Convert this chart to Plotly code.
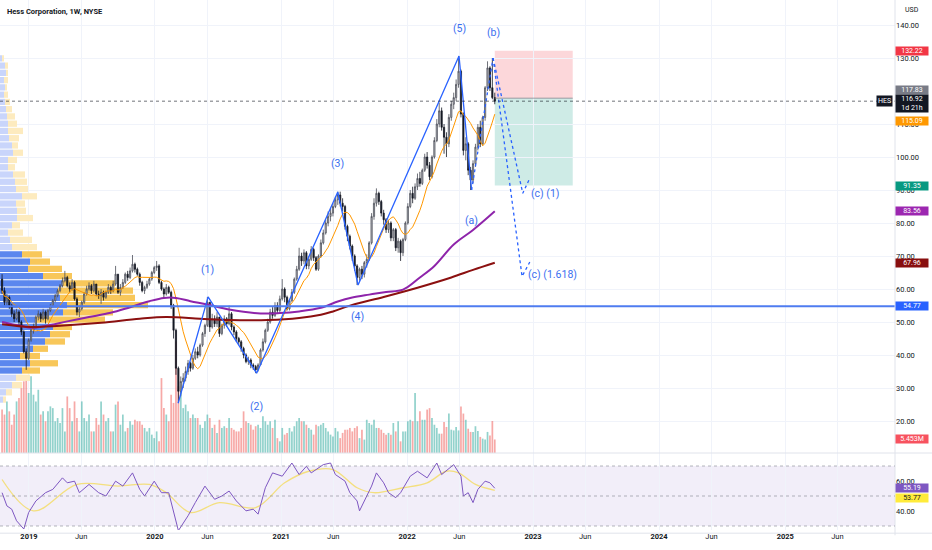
import pandas as pd
import plotly.graph_objects as go

FONT = "Roboto, Arial, sans-serif"
INK = "#131722"
BLUE = "#2962ff"

START = pd.Timestamp("2018-10-15")          # first weekly bar
X0, X1 = pd.Timestamp("2018-10-09"), pd.Timestamp("2025-11-15")
PLOT_W = 895                                 # px width of the plot area

# ---- weekly OHLC (open = previous close) ----
FIRST_OPEN = 63.0
closes = [59.5, 56, 57.5, 55, 52.5, 51, 53, 50, 47, 41,
          39, 44.5, 47.5, 48.5, 51.5, 52.5, 51, 53, 51, 53.5,
          55, 56.5, 58, 59.5, 61, 62.5, 63.5, 61, 60, 62,
          57, 53, 54, 56, 58.5, 60, 61, 59.5, 61.5, 58.5,
          58, 59, 57.5, 59, 60.5, 59.5, 61.5, 64.5, 59, 60.5,
          62, 64.5, 63.5, 65.5, 67.5, 66, 64.5, 62, 59.5, 60.5,
          61.5, 63, 65, 66.5, 67, 62, 60, 58.5, 60.5, 59,
          55, 47.5, 36, 29, 32, 33, 35, 37.5, 36, 39,
          41, 40, 43, 46.5, 49, 56, 48.5, 51, 49.5, 51.5,
          46.5, 49, 51, 49.5, 52.5, 48.5, 47, 45, 44, 42,
          40, 38, 38.5, 37, 36.5, 35.5, 37, 41.5, 44, 47.5,
          50, 53, 52, 55, 53.5, 57, 60, 57.5, 54, 56.5,
          59, 63, 66, 70, 68.5, 71, 67, 69, 72, 69.5,
          66, 70, 74, 77, 80, 82, 83, 85, 87, 88.5,
          86, 85, 79, 76, 73, 70, 67, 63.5, 66, 64.5,
          68, 69, 74, 82, 86, 89, 86.5, 83, 81, 78,
          80, 75.5, 78, 72.5, 74.5, 71, 75, 80, 85, 89,
          87.5, 91, 93.5, 92, 96, 100, 97.5, 94, 100, 105,
          110, 114, 109, 106, 104, 112, 116, 118, 122, 126,
          113, 102, 104, 96, 93, 98, 103, 109, 104, 112,
          121, 127, 121, 118, 116.92]
highs = [64.5, 60.5, 58.5, 58, 55.5, 53.5, 54, 53.5, 50.5, 47.5,
         42, 45, 48, 49.5, 52, 53.5, 53, 54, 53.5, 54,
         55.5, 57, 58.5, 60, 61.5, 63.5, 65.5, 64, 62, 63,
         62.5, 57.5, 55, 56.5, 59, 61, 62, 61.5, 62.5, 61.5,
         59.5, 60, 59.5, 59.5, 61.5, 61, 62.5, 67, 64.5, 61.5,
         63, 65, 65.5, 66.5, 70.3, 68, 66.5, 65, 62.5, 61,
         62.5, 63.5, 65.5, 67, 68.5, 67.5, 62.5, 60.5, 61.5, 61,
         59.5, 55.5, 48, 36.5, 33.5, 34.5, 36.5, 38.5, 38, 40,
         42, 42.5, 43.5, 47, 49.5, 57.6, 56, 52.5, 52, 53,
         51.5, 49.5, 52, 51.5, 55, 53, 49, 47.5, 45.5, 44.5,
         42.5, 40.5, 39.5, 39, 37.5, 37, 37.5, 42, 45, 48,
         51, 54, 54.5, 56, 56, 58, 63, 60.5, 58, 57,
         60, 63.5, 67, 72.5, 71, 72, 71.5, 70, 73, 72.5,
         70, 70.5, 75, 78, 81, 83.5, 84.5, 86, 88, 89.5,
         89.5, 87.5, 85.5, 79.5, 76.5, 73.5, 70.5, 67.5, 66.5, 67,
         68.5, 70.5, 74.5, 83, 87.5, 90.5, 89.5, 87, 84, 81.5,
         81, 80.5, 78.5, 78.5, 75.5, 75, 75.5, 80.5, 86, 90,
         91, 92, 95, 95.5, 96.5, 101, 101.5, 98.5, 100.5, 106,
         111.5, 116.5, 115, 110, 107.5, 113, 117, 119.5, 123.5, 130.6,
         126.5, 113.5, 106, 104.5, 97, 99, 104, 110, 111, 112.5,
         121.5, 129, 127.5, 130, 119.5]
lows = [58.5, 55, 55, 54, 51.5, 50, 50.5, 49, 46, 40.5,
        35.5, 38.5, 44, 46.5, 48, 50.5, 50, 50.5, 49.5, 50.5,
        53, 54.5, 56, 57.5, 59, 60.5, 62, 60.5, 59, 59.5,
        56.5, 52, 51.5, 53.5, 55.5, 58, 59.5, 58.5, 59, 58,
        57, 55.5, 56.5, 57, 58.5, 58.5, 59, 61, 58.5, 58,
        60, 61.5, 62.5, 63, 65, 65, 64, 61, 59, 58.5,
        60, 61, 62.5, 64.5, 65.5, 61.5, 59.5, 57.5, 58, 58.5,
        54, 45, 34, 25.5, 27.5, 30, 32, 34, 35, 35.5,
        38.5, 39, 39.5, 42.5, 45.5, 48.5, 47, 48, 48.5, 48.5,
        45.5, 46, 48, 48.5, 49, 47.5, 46, 44, 43, 41,
        39, 37.5, 37, 36, 35.5, 34.5, 35, 37, 41, 43.5,
        47, 49.5, 51, 51.5, 52.5, 53, 56.5, 56, 53.5, 53.5,
        56, 58.5, 62.5, 65.5, 67, 67.5, 66, 66, 68.5, 68.5,
        65.5, 65.5, 69.5, 73.5, 76.5, 79, 80.5, 82, 84.5, 85.5,
        85, 83.5, 78, 74.5, 72, 68.5, 65.5, 61.2, 62.5, 63,
        63.5, 66.5, 68.5, 73.5, 81, 85, 85.5, 82, 79.5, 77,
        77, 74.5, 74.5, 71.5, 71, 68.5, 70, 74.5, 79.5, 84.5,
        86, 87, 90, 91, 91.5, 95.5, 96.5, 93, 93.5, 99.5,
        104.5, 109, 108, 101, 100, 103, 111, 114.5, 117, 121,
        112, 100.5, 99, 94.5, 90, 92, 97, 102, 103, 103.5,
        111, 120, 120, 117.5, 116]

# weekly volume, millions of shares
volume = [17.5, 15.5, 20.8, 16.8, 11.4, 15.5, 20.8, 22.2, 26.2, 28.9,
          30.2, 24.2, 30.9, 23.5, 20.8, 25.5, 15.5, 16.8, 12.8, 16.8,
          18.8, 18.1, 12.8, 14.1, 12.1, 18.1, 8.7, 22.8, 18.1, 12.8,
          20.8, 14.1, 8.7, 20.8, 14.1, 12.8, 15.5, 8.7, 8.7, 14.1,
          11.4, 20.8, 15.5, 12.8, 14.1, 8.7, 8.7, 19.5, 20.8, 11.4,
          15.5, 8.7, 10.1, 12.8, 11.4, 13.4, 12.8, 12.8, 11.4, 10.1,
          8.7, 10.1, 7.4, 6.0, 8.7, 4.7,
          30.2, 18.1, 15.5, 12.8, 23.5, 20.2, 45.0, 26.9, 24.9, 18.1,
          19.5, 16.8, 14.1, 15.5, 14.1, 14.1, 11.4, 10.1, 12.8, 15.5,
          14.1, 10.1, 11.4, 8.1, 13.4, 10.1, 10.8, 10.1, 14.1, 10.1,
          9.4, 8.7, 8.7, 10.1, 16.8, 12.8, 12.1, 11.4, 9.4, 10.8,
          11.4, 10.1, 14.8, 12.8, 11.4, 12.8, 10.1, 13.4, 6.0, 4.7,
          10.1, 7.4, 8.1, 10.1, 8.7, 10.8, 12.8, 14.1, 12.8, 12.8,
          11.4, 10.1, 9.4, 7.4, 11.4, 10.8, 11.4, 12.1, 10.1, 8.7,
          7.4, 6.7, 10.1, 8.7, 6.0, 8.1, 9.4, 9.4, 10.1, 8.7,
          10.1, 10.8, 6.0, 9.4, 5.4, 13.4, 12.1, 11.4, 13.4, 10.1,
          10.1, 9.4, 8.1, 7.4, 8.1, 7.4, 12.1, 8.7, 12.8, 4.7,
          8.7, 8.7, 12.8, 13.4, 12.8, 24.2, 12.8, 16.8, 13.4, 13.4,
          17.5, 18.1, 14.1, 11.4, 10.1,
          7.8, 7.8, 12.5, 10.5, 15.9, 9.4, 9.1, 10.5, 9.1, 18.8,
          15.9, 13.4, 9.8, 8.5, 8.5, 10.8, 8.9, 6.5, 5.8, 5.4,
          8.5, 7.1, 12.9, 5.453]

# ---- moving averages (week index -> value) ----
purple_w = [0, 5, 12, 18, 27, 36, 45, 53, 61, 67, 72, 78, 85, 94, 107, 115,
            123, 132, 139, 145, 152, 159, 166, 173, 179, 187, 195, 204]
purple_v = [50.0, 49.2, 48.3, 48.8, 50.2, 51.5, 52.8, 54.5, 56.3, 57.3, 57.3, 56.3,
            55.3, 53.8, 52.6, 52.7, 53.2, 54.3, 56.2, 57.4, 58.3, 59.1, 59.8, 63.5,
            67.0, 73.5, 77.9, 83.56]
maroon_w = [0, 12, 24, 41, 57, 68, 82, 94, 110, 123, 132, 137, 145, 158, 172, 186, 195, 204]
maroon_v = [49.3, 48.5, 48.9, 49.8, 51.0, 51.5, 51.0, 50.6, 50.6, 51.2, 52.2, 53.2,
            55.2, 57.6, 60.4, 63.5, 65.8, 67.96]

# ---- RSI pane ----
rsi_w = [0, 2, 4, 6, 9, 11, 14, 18, 21, 25, 27, 30, 32, 36, 40, 43, 47, 50, 54, 57,
         59, 63, 66, 69, 73, 77, 80, 84, 88, 91, 94, 97, 101, 104, 106, 109, 112, 116,
         120, 123, 126, 128, 133, 136, 138, 142, 144, 147, 148, 150, 153, 155, 158,
         160, 163, 165, 169, 172, 176, 180, 182, 187, 190, 191, 193, 195, 197, 200, 202, 204]
rsi_v = [52.2, 43.4, 41.2, 33.5, 28.0, 39.0, 46.7, 52.2, 54.4, 62.1, 58.8, 59.9, 52.2,
         57.7, 52.2, 50.0, 59.9, 56.6, 65.4, 54.4, 50.0, 59.9, 52.2, 52.2, 26.9, 36.8,
         45.6, 56.6, 47.8, 50.0, 53.3, 46.7, 40.1, 41.2, 37.9, 55.5, 65.4, 63.2, 72.0,
         64.3, 69.8, 65.4, 70.9, 72.0, 64.3, 59.9, 52.2, 46.7, 40.1, 46.7, 56.6, 65.4,
         58.8, 52.2, 48.9, 52.2, 63.2, 66.5, 62.1, 72.0, 64.3, 70.9, 63.2, 50.0, 52.2,
         45.6, 54.4, 59.9, 58.8, 55.19]
rsima_w = [0, 13, 31, 48, 61, 68, 78, 90, 105, 117, 127, 137, 147, 154, 166, 176, 184, 189, 196, 204]
rsima_v = [61.0, 40.1, 57.7, 56.6, 57.7, 52.2, 39.0, 45.6, 42.3, 58.8, 66.5, 67.6,
           55.5, 52.2, 55.5, 58.8, 66.5, 65.4, 57.7, 53.77]

# ---- visible-range volume profile (row price, up / down volume) ----
prof_price = [26.5, 28.7, 30.9, 33.1, 35.3, 37.5, 39.7, 41.9, 44.1, 46.3, 48.5, 50.7,
              52.9, 55.1, 57.3, 59.5, 61.7, 63.9, 66.1, 68.3, 70.5, 72.7, 74.9, 77.1,
              79.3, 81.5, 83.7, 85.9, 88.1, 90.3, 92.5, 94.7, 96.9, 99.1, 101.3, 103.5,
              105.7, 107.9, 110.1, 112.3, 114.5, 116.7, 118.9, 121.1, 123.3, 125.5, 127.7, 129.9]
prof_up = [3, 6, 12, 16, 22, 30, 20, 33, 45, 50, 53, 35, 63, 67, 60, 58, 62, 43, 28, 30,
           22, 12, 10, 8, 12, 17, 17, 16, 22, 16, 15, 13, 8, 8, 13, 12, 9, 8, 8, 7,
           6, 5, 4, 5, 4, 6, 5, 2]
prof_down = [3, 6, 10, 14, 18, 28, 20, 15, 20, 20, 19, 70, 50, 81, 75, 75, 53, 29, 34, 20,
             20, 25, 22, 15, 8, 16, 9, 9, 15, 12, 12, 12, 7, 9, 10, 6, 10, 15, 9, 8,
             6, 5, 4, 2, 4, 2, 3, 2]
VA_LOW, VA_HIGH = 34.0, 71.5

# ---- Elliott wave count and projections (week index, price) ----
wave_w = [72.9, 85.3, 105.4, 139.0, 147.4, 189.2, 194.4]
wave_p = [25.4, 57.6, 34.5, 89.4, 61.2, 130.6, 90.0]
ab_w, ab_p = [194.4, 203.3], [90.0, 130.0]
c1_w, c1_p = [203.3, 215.6, 218.5], [130.0, 89.0, 93.6]
c2_w, c2_p = [203.3, 215.3, 218.5], [130.0, 63.8, 68.2]
wave_labels = [("(1)", 85.2, 65.8), ("(2)", 105.4, 24.5), ("(3)", 139.0, 97.9),
               ("(4)", 147.2, 51.8), ("(5)", 189.2, 138.8), ("(a)", 194.4, 80.9),
               ("(b)", 203.3, 137.6), ("(c) (1)", 225.2, 88.8), ("(c) (1.618)", 228.0, 64.5)]

STOP, ENTRY, TARGET = 132.22, 117.83, 91.35
BOX_END = pd.Timestamp("2023-04-26")
LEVEL = 54.77
LAST = 116.92
price_ticks = [20, 30, 40, 50, 60, 70, 80, 90, 100, 110, 130, 140]


def wk(w):
    return START + pd.Timedelta(days=7 * w)


dates = [wk(i) for i in range(len(closes))]
opens = [FIRST_OPEN] + closes[:-1]
rising = [c >= o for o, c in zip(opens, closes)]
sma10 = pd.Series(closes).rolling(10, min_periods=1).mean()

fig = go.Figure()

# volume on the base axis (drawn underneath the price layer)
fig.add_bar(x=dates, y=volume, xaxis="x", yaxis="y", width=5 * 86400000,
            marker=dict(color=["rgba(38,166,154,0.5)" if r else "rgba(239,83,80,0.5)" for r in rising],
                        line_width=0))

# volume profile as horizontal bars starting at the left edge
ms_px = (X1 - X0).total_seconds() * 1000 / PLOT_W
in_va = [VA_LOW <= p <= VA_HIGH for p in prof_price]
fig.add_bar(orientation="h", y=prof_price, x=[u * ms_px for u in prof_up], base=[X0] * len(prof_up),
            xaxis="x", yaxis="y2", width=1.9,
            marker=dict(color=["#5b87ee" if v else "#c9d5fb" for v in in_va], line_width=0))
fig.add_bar(orientation="h", y=prof_price, x=[d * ms_px for d in prof_down],
            base=[X0 + pd.Timedelta(milliseconds=u * ms_px) for u in prof_up],
            xaxis="x", yaxis="y2", width=1.9,
            marker=dict(color=["#f8c75a" if v else "#fdebbf" for v in in_va], line_width=0))

fig.add_candlestick(x=dates, open=opens, high=highs, low=lows, close=closes, xaxis="x", yaxis="y2",
                    increasing=dict(line=dict(color="#4a4d57", width=0.8), fillcolor="#c8cad0"),
                    decreasing=dict(line=dict(color=INK, width=0.8), fillcolor=INK),
                    whiskerwidth=0)

fig.add_scatter(x=dates, y=sma10, mode="lines", line=dict(color="#ff9800", width=1), xaxis="x", yaxis="y2")
fig.add_scatter(x=[wk(w) for w in purple_w], y=purple_v, mode="lines", line_shape="spline",
                line=dict(color="#8e24aa", width=2), xaxis="x", yaxis="y2")
fig.add_scatter(x=[wk(w) for w in maroon_w], y=maroon_v, mode="lines", line_shape="spline",
                line=dict(color="#8b1010", width=2), xaxis="x", yaxis="y2")

fig.add_scatter(x=[wk(w) for w in wave_w], y=wave_p, mode="lines",
                line=dict(color=BLUE, width=1.3), xaxis="x", yaxis="y2")
for ws, ps in [(ab_w, ab_p), (c1_w, c1_p), (c2_w, c2_p)]:
    fig.add_scatter(x=[wk(w) for w in ws], y=ps, mode="lines",
                    line=dict(color=BLUE, width=1.3, dash="dot"), xaxis="x", yaxis="y2")

# RSI
fig.add_scatter(x=[wk(w) for w in rsima_w], y=rsima_v, mode="lines", line_shape="spline",
                line=dict(color="rgba(245,215,60,0.65)", width=1.3), xaxis="x", yaxis="y3")
fig.add_scatter(x=[wk(w) for w in rsi_w], y=rsi_v, mode="lines",
                line=dict(color="#7e57c2", width=1), xaxis="x", yaxis="y3")

# ---- shapes ----
PANE = 1 - 453 / 530
shapes = [
    dict(type="rect", xref="x", yref="y2", x0=wk(204), x1=BOX_END, y0=ENTRY, y1=STOP,
         fillcolor="rgba(242,54,69,0.2)", line_width=0, layer="below"),
    dict(type="rect", xref="x", yref="y2", x0=wk(204), x1=BOX_END, y0=TARGET, y1=ENTRY,
         fillcolor="rgba(8,153,129,0.2)", line_width=0, layer="below"),
    dict(type="line", xref="x", yref="y2", x0=wk(204), x1=BOX_END, y0=ENTRY, y1=ENTRY,
         line=dict(color="rgba(120,123,134,0.7)", width=1)),
    dict(type="line", xref="paper", yref="y2", x0=0, x1=1, y0=LAST, y1=LAST,
         line=dict(color="rgba(19,23,34,0.6)", width=1, dash="dot")),
    dict(type="line", xref="paper", yref="y2", x0=0, x1=1, y0=LEVEL, y1=LEVEL,
         line=dict(color="#4f7cf0", width=2)),
    dict(type="rect", xref="paper", yref="y3", x0=0, x1=1, y0=30, y1=70,
         fillcolor="rgba(126,87,194,0.1)", line_width=0, layer="below"),
    dict(type="line", xref="paper", yref="paper", x0=1, x1=1, y0=-0.01, y1=1,
         line=dict(color="#e0e3eb", width=1)),
    dict(type="line", xref="paper", yref="paper", x0=0, x1=932 / PLOT_W, y0=PANE, y1=PANE,
         line=dict(color="#e0e3eb", width=1)),
    dict(type="line", xref="paper", yref="paper", x0=0, x1=932 / PLOT_W, y0=-0.006, y1=-0.006,
         line=dict(color="#e0e3eb", width=1)),
]
for lv in (70, 50, 30):
    shapes.append(dict(type="line", xref="paper", yref="y3", x0=0, x1=1, y0=lv, y1=lv,
                       line=dict(color="rgba(120,123,134,0.55)", width=1, dash="dot")))
fig.update_layout(shapes=shapes)

# ---- annotations ----
ann = []
for txt, w, p in wave_labels:
    ann.append(dict(x=wk(w), y=p, xref="x", yref="y2", text=txt, showarrow=False,
                    font=dict(size=10.5, color="#3b6ff0", family=FONT)))


def tag(val, text, bg, fg="white", yref="y2", dy=0):
    ann.append(dict(x=1, xref="paper", xanchor="left", y=val, yref=yref, yshift=dy,
                    text=text, showarrow=False, bgcolor=bg, width=32, borderpad=0,
                    font=dict(size=7, color=fg, family=FONT)))


tag(STOP, "132.22", "#f23645")
tag(ENTRY, "117.83", "#787b86", dy=8)
tag(LAST, "116.92<br>1d 21h", INK, dy=-2)
tag(115.09, "115.09", "#ff9800", dy=-13.5)
tag(TARGET, "91.35", "#089981")
tag(83.56, "83.56", "#9c27b0")
tag(67.96, "67.96", "#880e0e")
tag(LEVEL, "54.77", BLUE)
tag(5.453, "5.453M", "#f7525f", yref="y")
tag(55.19, "55.19", "#7e57c2", yref="y3")
tag(53.77, "53.77", "#ffeb3b", fg=INK, yref="y3", dy=-8)
ann.append(dict(x=1, xref="paper", xanchor="right", xshift=-2, y=LAST, yref="y2", text="HES",
                showarrow=False, bgcolor=INK, borderpad=1, font=dict(size=7, color="white", family=FONT)))
ann.append(dict(x=0, xref="paper", xanchor="left", xshift=5, y=1, yref="paper", yanchor="top", yshift=-5,
                text="<b>Hess Corporation, 1W, NYSE</b>", showarrow=False,
                font=dict(size=7.5, color=INK, family=FONT)))
ann.append(dict(x=1, xref="paper", xanchor="left", xshift=8, y=1, yref="paper", yanchor="top", yshift=-4,
                text="USD", showarrow=False, font=dict(size=7, color=INK, family=FONT)))
fig.update_layout(annotations=ann)

tickvals, ticktext = [], []
for yr in range(2019, 2026):
    tickvals += [f"{yr}-01-01", f"{yr}-06-01"]
    ticktext += [f"<b>{yr}</b>", "Jun"]

GRID = "#f0f3fa"
fig.update_layout(
    width=932, height=550, margin=dict(l=0, r=37, t=0, b=20),
    paper_bgcolor="white", plot_bgcolor="white", showlegend=False, barmode="overlay",
    font=dict(family=FONT, color=INK, size=7.5),
    xaxis=dict(type="date", range=[X0, X1], anchor="y3", tickvals=tickvals, ticktext=ticktext,
               showgrid=True, gridcolor=GRID, zeroline=False, showline=False, ticks="",
               rangeslider=dict(visible=False), tickfont=dict(size=7.5, color=INK)),
    yaxis=dict(domain=[PANE, 1], range=[0, 453 / 2.48], visible=False, fixedrange=True),
    yaxis2=dict(overlaying="y", side="right", range=[10.31, 147.58], tickvals=price_ticks,
                tickformat=".2f", showgrid=True, gridcolor=GRID, zeroline=False,
                ticks="", tickfont=dict(size=7.5, color=INK)),
    yaxis3=dict(domain=[0, PANE], range=[27.33, 78.67], side="right", tickvals=[40, 60],
                tickformat=".2f", showgrid=False, zeroline=False, ticks="",
                tickfont=dict(size=7.5, color=INK)),
)

# page body has a default 8px margin; remove it so the figure sits at the window corner
fig.write_html("out.html", config={"displayModeBar": False},
               post_script="document.body.style.margin='0';")
